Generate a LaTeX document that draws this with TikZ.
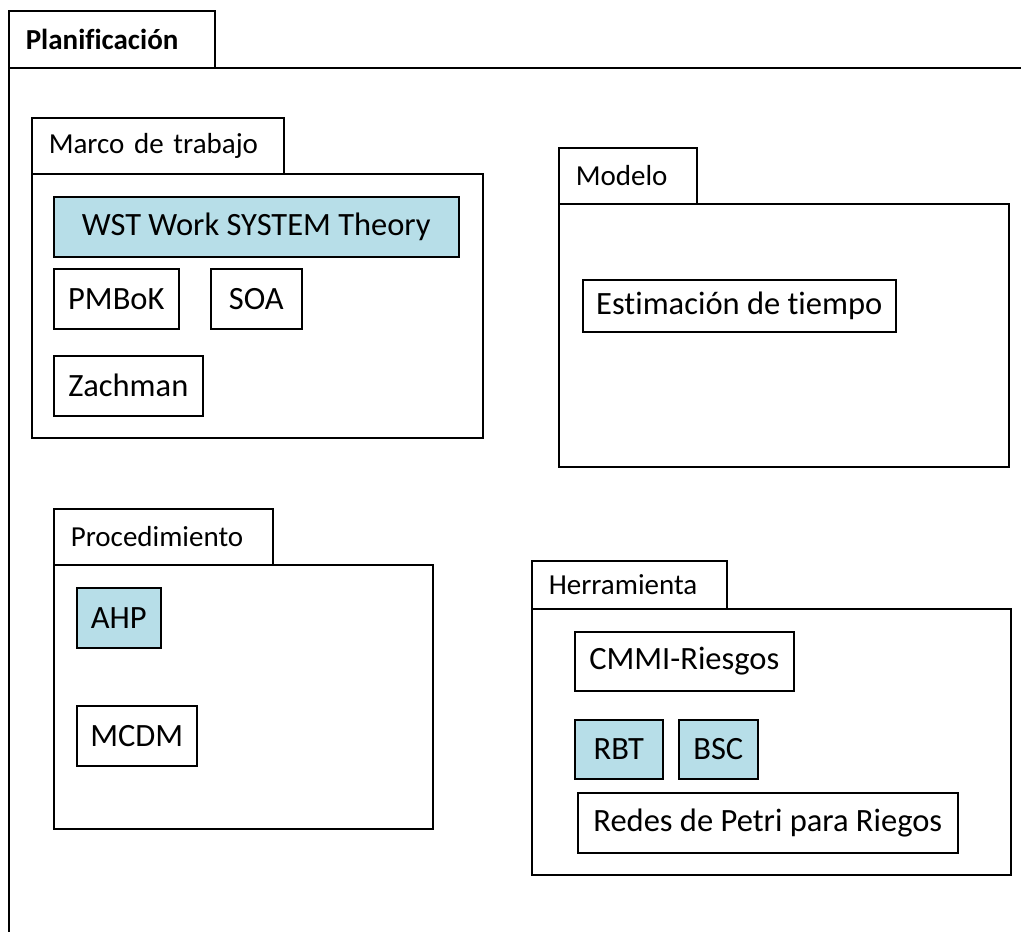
\documentclass[tikz,border=0pt]{standalone}
\usepackage{fontspec}
\setmainfont{Carlito}[Ligatures=NoCommon]
\usetikzlibrary{positioning}
\definecolor{celeste}{RGB}{183,222,232}

\begin{document}
\begin{tikzpicture}[
    x=1pt, y=-1pt,
    pkgtab/.style ={
        draw=black,
        line width=1.6pt,
        anchor=north west,
        inner xsep=17pt,
        inner ysep=0pt,
        align=left,
        font=\fontsize{29}{32}\selectfont
    },
    pkgbody/.style ={
        draw=black,
        line width=1.6pt,
        anchor=north west,
        inner sep=0pt
    },
    item/.style ={
        draw=black,
        line width=1.6pt,
        anchor=north west,
        inner sep=0pt,
        font=\fontsize{32.5}{35}\selectfont
    }
    ]
    \clip (0,0) rectangle (1021,932);
    \fill[white] (0,0) rectangle (1021,932);

    % paquete exterior
    \node[pkgbody, minimum width=1040pt, minimum height=900pt] (planBody) at (8,67) {};
    \node[pkgtab, text width=172pt, minimum height=57pt, font=\fontsize{29}{32}\selectfont\bfseries] (planTab) at (8,10) {Planificaci\'on};

    % paquetes internos
    \foreach \id/ \x/ \y/ \tw/ \th/ \bw/ \bh/ \txt in {
            {marco/31/117/252/56/451/264/Marco de trabajo},
            {modelo/558/147/138/56/450/263/Modelo},
            {proc/53/508/219/56/379/264/Procedimiento},
            {herr/531/560/195/48/479/266/Herramienta}}
    {
        \node[pkgtab, text width=\tw pt-34pt, minimum height=\th pt] (\id Tab) at (\x,\y) {\txt};
        \node[pkgbody, minimum width=\bw pt, minimum height=\bh pt] (\id Body) at (\x,\y+\th) {};
    }

    % elementos
    \foreach \id/ \x/ \y/ \w/ \h/ \sel/ \txt in {
            {wst/53/196/405/60/celeste/WST Work SYSTEM Theory},
            {pmbok/53/268/125/60/white/PMBoK},
            {soa/210/268/91/60/white/SOA},
            {zach/53/355/149/60/white/Zachman},
            {estim/582/279/313/52/white/Estimaci\'on de tiempo},
            {ahp/76/587/84/60/celeste/AHP},
            {mcdm/76/705/120/60/white/MCDM},
            {cmmi/574/631/219/59/white/CMMI-Riesgos},
            {rbt/574/719/88/59/celeste/RBT},
            {bsc/678/719/79/59/celeste/BSC},
            {petri/577/792/380/60/white/Redes de Petri para Riegos}}
        \node[item, fill=\sel, minimum width=\w pt, minimum height=\h pt] (\id) at (\x,\y) {\txt};
\end{tikzpicture}
\end{document}
